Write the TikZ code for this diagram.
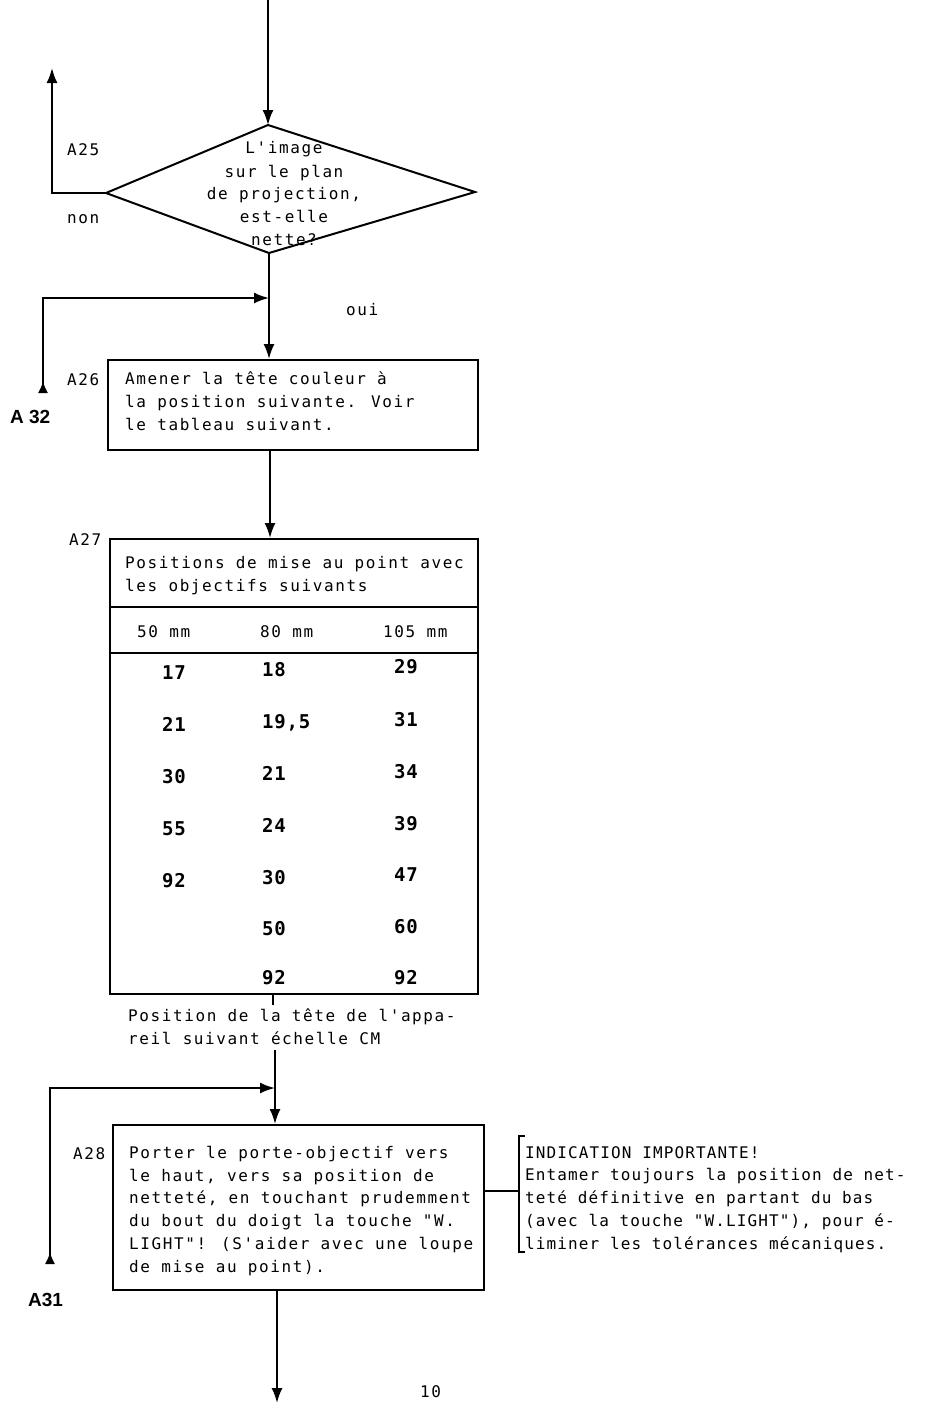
\documentclass[tikz,border=0pt]{standalone}
\usepackage{fontspec}
\usetikzlibrary{arrows.meta}
\newfontfamily\tw[LetterSpace=10]{DejaVu Sans Mono}
\newfontfamily\twn[LetterSpace=7]{DejaVu Sans Mono}
\newfontfamily\numf[LetterSpace=4]{DejaVu Sans Mono}
\newfontfamily\labf{Liberation Sans}
\tikzset{
  ln/.style={line width=2pt},
  tip/.tip={Latex[length=15pt,width=11pt]},
  arr/.style={ln,-tip},
  upin/.style={ln,{Latex[reversed,length=12pt,width=10pt]}-tip},
  txt/.style={font=\tw\fontsize{16}{22.7}\selectfont, inner sep=0pt, anchor=base west, align=left},
  ntxt/.style={txt, font=\twn\fontsize{16}{22.7}\selectfont},
  ctxt/.style={font=\tw\fontsize{16}{22.7}\selectfont, inner sep=0pt, anchor=base},
  num/.style={font=\numf\bfseries\fontsize{19}{22}\selectfont, inner sep=0pt, anchor=base west},
  lab/.style={font=\labf\bfseries\fontsize{19}{22}\selectfont, inner sep=0pt, anchor=base west},
  boxn/.style={draw, ln, inner sep=0pt, anchor=north west},
}
\begin{document}
\begin{tikzpicture}[x=1pt,y=-1pt]
\useasboundingbox (0,0) rectangle (931,1403);
% diamond
\coordinate (dtop) at (268,125);
\coordinate (dleft) at (106,193);
\coordinate (dright) at (475,192);
\coordinate (dbot) at (269,253);
\draw[ln, line join=miter] (dtop) -- (dright) -- (dbot) -- (dleft) -- cycle;
\coordinate (start) at (268,0);
\draw[arr] (start) -- (dtop);
\node[ctxt] (q1) at (284,153) {L'image};
\node[ctxt] (q2) at (284,177) {sur le plan};
\node[ctxt] (q3) at (284,199) {de projection,};
\node[ctxt] (q4) at (284,222) {est-elle};
\node[ctxt] (q5) at (284,245) {nette?};
% non branch
\coordinate (nonend) at (52,68);
\draw[arr] (dleft) -- (52,193) -- (nonend);
\node[txt] (a25) at (67,155) {A25};
\node[txt] (non) at (67,223) {non};
% box A26
\node[boxn, minimum width=370pt, minimum height=90pt] (b26) at (107,359) {};
\node[txt] (t26) at (125,430) {Amener la tête couleur à\\la position suivante. Voir\\le tableau suivant.};
\node[txt] (a26) at (67,385) {A26};
\draw[arr] (dbot) -- (dbot |- b26.north);
\node[txt] (oui) at (346,315) {oui};
\coordinate (j1) at (269,298);
\coordinate (a32s) at (43,393);
\draw[upin] (a32s) -- (43,298) -- (j1);
\node[lab] (a32) at (10,423) {A 32};
% table A27
\node[boxn, minimum width=368pt, minimum height=455pt] (tab) at (109,538) {};
\coordinate (b26out) at (270,449);
\draw[arr] (b26out) -- (b26out |- tab.north);
\node[txt] (a27) at (69,545) {A27};
\draw[ln] (tab.west |- 0,607) -- (tab.east |- 0,607);
\draw[ln] (tab.west |- 0,653) -- (tab.east |- 0,653);
\node[txt] (tt) at (125,591) {Positions de mise au point avec\\les objectifs suivants};
\node[txt] (h1) at (137,637) {50 mm};
\node[txt] (h2) at (260,637) {80 mm};
\node[txt] (h3) at (383,637) {105 mm};
% column 1
\node[num] (c11) at (162,679) {17};
\node[num] (c12) at (162,731) {21};
\node[num] (c13) at (162,783) {30};
\node[num] (c14) at (162,835) {55};
\node[num] (c15) at (162,887) {92};
% column 2
\node[num] (c21) at (262,676) {18};
\node[num] (c22) at (262,728) {19,5};
\node[num] (c23) at (262,780) {21};
\node[num] (c24) at (262,832) {24};
\node[num] (c25) at (262,884) {30};
\node[num] (c26) at (262,935) {50};
\node[num] (c27) at (262,984) {92};
% column 3
\node[num] (c31) at (394,673) {29};
\node[num] (c32) at (394,726) {31};
\node[num] (c33) at (394,778) {34};
\node[num] (c34) at (394,830) {39};
\node[num] (c35) at (394,881) {47};
\node[num] (c36) at (394,933) {60};
\node[num] (c37) at (394,984) {92};
% below table
\coordinate (tick) at (273,993);
\draw[ln] (tick) -- (273,1005);
\node[txt] (pos) at (128,1044) {Position de la tête de l'appa-\\reil suivant échelle CM};
% box A28
\node[boxn, minimum width=371pt, minimum height=165pt] (b28) at (112,1124) {};
\coordinate (c2s) at (275,1050);
\draw[arr] (c2s) -- (c2s |- b28.north);
\coordinate (j2) at (275,1088);
\coordinate (a31s) at (50,1264);
\draw[upin] (a31s) -- (50,1088) -- (j2);
\node[lab] (a31) at (28,1306) {A31};
\node[txt] (a28) at (73,1159) {A28};
\node[txt] (t28) at (129,1272) {Porter le porte-objectif vers\\le haut, vers sa position de\\netteté, en touchant prudemment\\du bout du doigt la touche "W.\\LIGHT"! (S'aider avec une loupe\\de mise au point).};
\coordinate (endc) at (277,1403);
\draw[arr] (b28.south -| endc) -- (endc);
% annotation
\coordinate (br) at (518,1191);
\draw[ln] (b28.east |- br) -- (br);
\draw[ln] (525,1136) -- (519,1136) -- (519,1252) -- (525,1252);
\node[ntxt] (note) at (525,1249) {INDICATION IMPORTANTE!\\Entamer toujours la position de net-\\teté définitive en partant du bas\\(avec la touche "W.LIGHT"), pour é-\\liminer les tolérances mécaniques.};
\node[txt] (pg) at (420,1397) {10};
\end{tikzpicture}
\end{document}
